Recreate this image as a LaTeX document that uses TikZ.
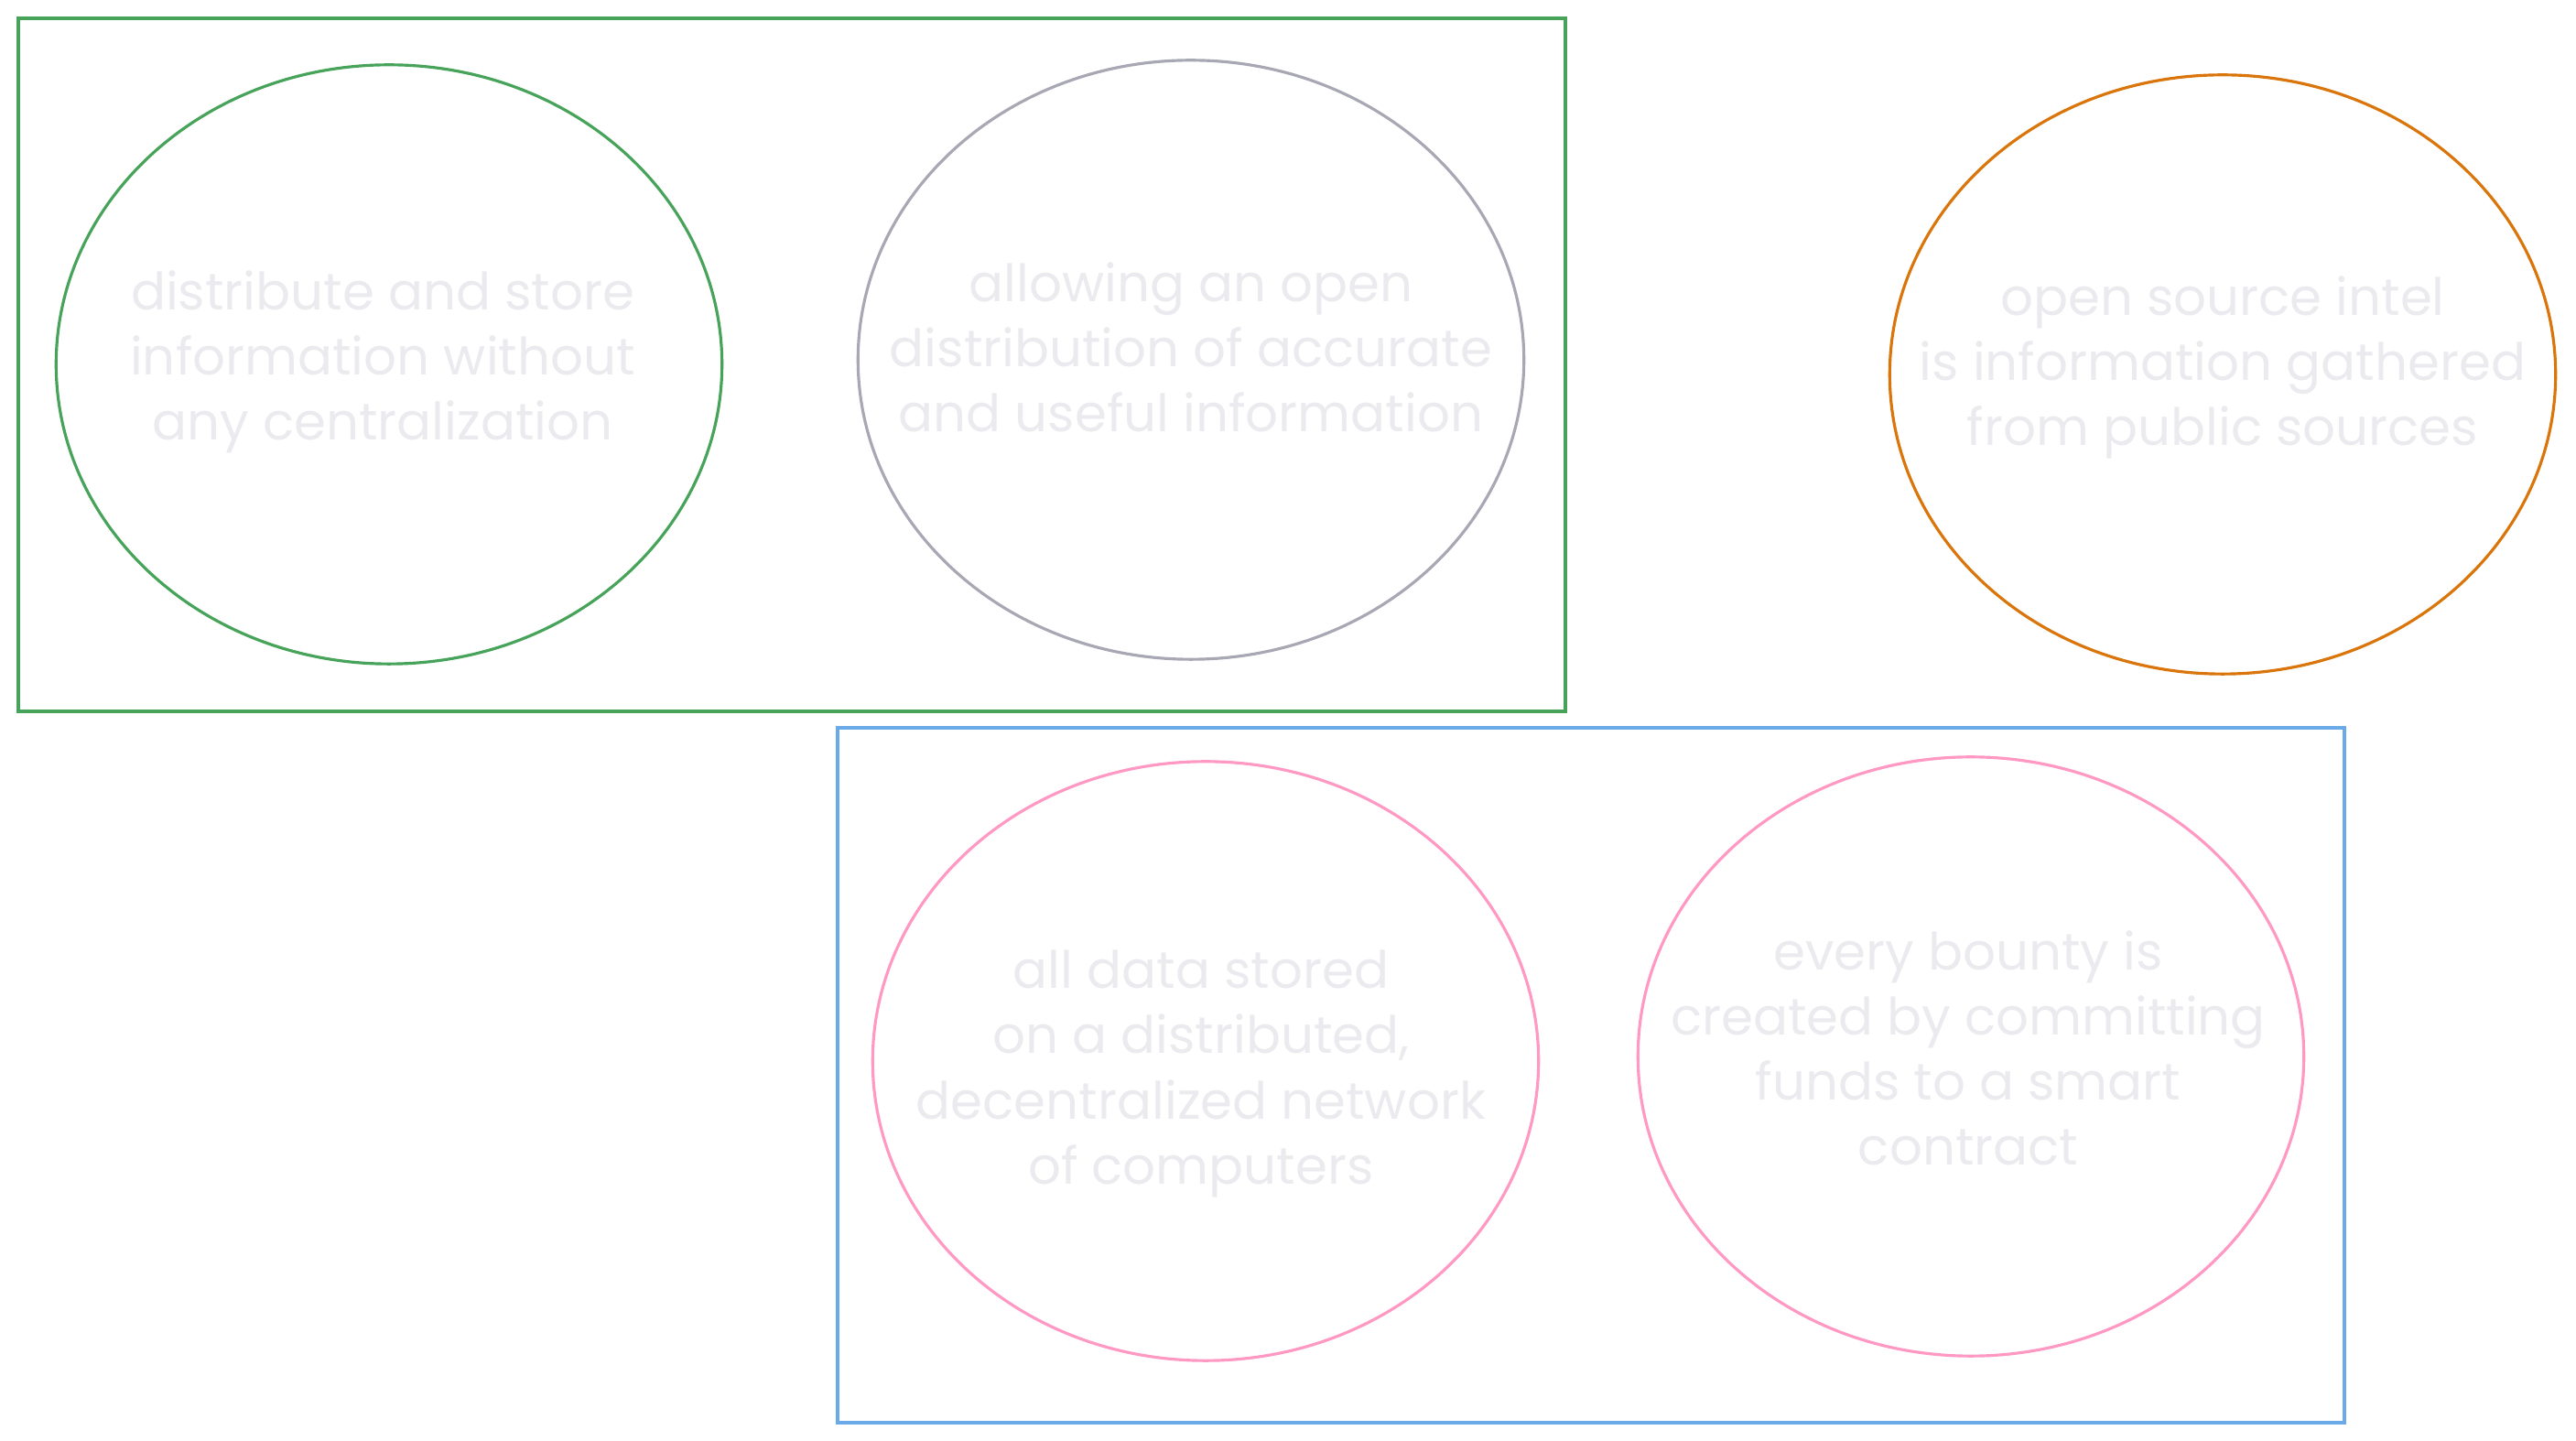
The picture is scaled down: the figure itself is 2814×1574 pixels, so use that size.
\documentclass[tikz,border=0pt]{standalone}
\usepackage{fontspec}
\setmainfont{Poppins}
\usetikzlibrary{shapes.geometric}

\definecolor{boxgreen}{HTML}{47A35A}
\definecolor{ringgray}{HTML}{A8A8B4}
\definecolor{ringorange}{HTML}{D9750A}
\definecolor{ringpink}{HTML}{FF99C4}
\definecolor{boxblue}{HTML}{6AAAE8}
\definecolor{faint}{HTML}{EBEAEE}

\begin{document}
\begin{tikzpicture}[
        x=0.01cm, y=-0.01cm,
        ring/.style={ellipse, draw, line width=0.9pt, inner sep=0pt,
                     minimum width=7.27cm, minimum height=6.54cm},
        idea/.style={font=\fontsize{16}{20.2}\selectfont, text=faint,
                     align=center, inner sep=0pt},
        group/.style={draw, line width=0.9pt}
    ]
        \useasboundingbox (0,0) rectangle (2814,1574);

        % upper group
        \draw[group, boxgreen] (20,20) rectangle (1710,777);
        \node[ring, draw=boxgreen] (store) at (425,398) {};
        \node[idea] (storetxt) at (418,395)
            {distribute and store\\information without\\any centralization};
        \node[ring, draw=ringgray] (open) at (1301,393) {};
        \node[idea] (opentxt) at (1301,379)
            {allowing an open\\distribution of accurate\\and useful information};

        % standalone
        \node[ring, draw=ringorange] (osint) at (2428,409) {};
        \node[idea] (osinttxt) at (2428,401)
            {open source intel\\is information gathered\\from public sources};

        % lower group
        \draw[group, boxblue] (915,795) rectangle (2561,1554);
        \node[ring, draw=ringpink] (data) at (1317,1159) {};
        \node[idea] (datatxt) at (1312,1173)
            {all data stored\\on a distributed,\\decentralized network\\of computers};
        \node[ring, draw=ringpink] (bounty) at (2153,1154) {};
        \node[idea] (bountytxt) at (2150,1145)
            {every bounty is\\created by committing\\funds to a smart\\contract};
    \end{tikzpicture}
\end{document}
